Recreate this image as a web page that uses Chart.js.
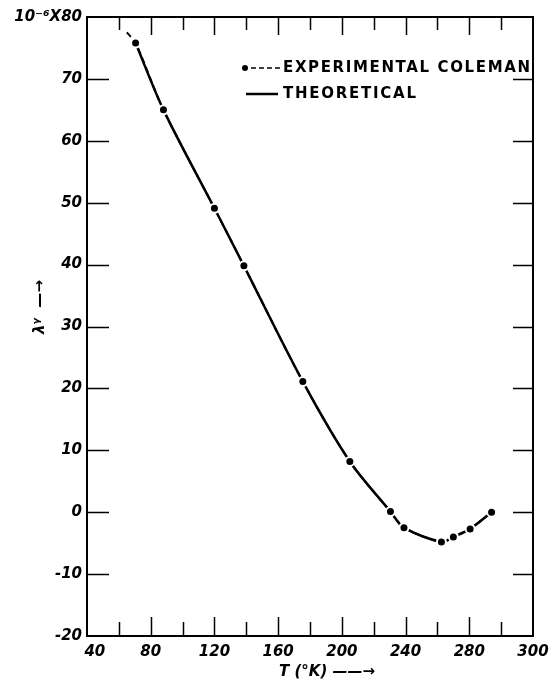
<!DOCTYPE html>
<html>
<head>
<meta charset="utf-8">
<script src="https://cdn.jsdelivr.net/npm/chart.js@4"></script>
<style>
  html, body { margin: 0; padding: 0; background: #fff; }
  #wrap { width: 553px; height: 682px; }
</style>
</head>
<body>
<div id="wrap"><canvas id="lambdaChart"></canvas></div>
<script>
// Experimental points (Coleman), first one only starts the dashed lead-in
const expT = [65, 70.5, 88, 120, 138.5, 175.5, 205, 230.5, 239, 262.5, 270, 280.5, 294];
const expLambda = [77.5, 75.8, 65.0, 49.1, 39.8, 21.1, 8.2, 0.1, -2.5, -4.8, -4.0, -2.7, 0.0];
const expRadius = [0, 4.5, 4.5, 4.5, 4.5, 4.5, 4.5, 4.5, 4.5, 4.5, 4.5, 4.5, 4.5];

// Theoretical curve
const theoT = [70.5, 88, 120, 138.5, 175.5, 205, 230.5, 239, 262.5, 270, 280.5, 294];
const theoLambda = [75.8, 65.0, 49.1, 39.8, 21.1, 8.2, 0.1, -2.5, -4.8, -4.0, -2.7, 0.0];

// Axis ticks (the original plot labels its right edge "300")
const xTickValues = [40, 60, 80, 100, 120, 140, 160, 180, 200, 220, 240, 260, 280, 300, 320];
const xTickLabels = ["   40", "", "80", "", "120", "", "160", "", "200", "", "240", "", "280", "", "300"];
const yTickValues = [-20, -10, 0, 10, 20, 30, 40, 50, 60, 70, 80];
const yTickLabels = ["-20", "-10", "0", "10", "20", "30", "40", "50", "60", "70", "10\u207B\u2076X80"];

const legendLabels = ["EXPERIMENTAL COLEMAN", "THEORETICAL"];
const xTitle = "T (\u00B0K) \u2014\u2014\u2192";
const yTitle = "\u03BB\u1D5E  \u2014\u2192";

const tickFont = { family: "DejaVu Sans", size: 15, style: "italic", weight: "bold" };

const toPoints = (xs, ys) => xs.map((x, i) => ({ x: x, y: ys[i] }));

// frame, inward ticks, legend and axis titles
const framePlugin = {
  id: "framePlugin",
  afterDraw(chart) {
    const ctx = chart.ctx;
    const a = chart.chartArea;
    const xs = chart.scales.x, ys = chart.scales.y;
    ctx.save();
    ctx.strokeStyle = "#000";
    ctx.lineWidth = 2;
    ctx.strokeRect(a.left, a.top, a.right - a.left, a.bottom - a.top);

    ctx.lineWidth = 1.5;
    ctx.beginPath();
    xTickValues.forEach(v => {
      if (v === 40 || v === 320) return;
      const px = Math.round(xs.getPixelForValue(v)) + 0.5;
      const major = v % 40 === 0;
      ctx.moveTo(px, a.bottom); ctx.lineTo(px, a.bottom - (major ? 19 : 14));
      ctx.moveTo(px, a.top); ctx.lineTo(px, a.top + (major ? 18 : 13));
    });
    yTickValues.forEach(v => {
      if (v === -20 || v === 80) return;
      const py = Math.round(ys.getPixelForValue(v)) + 0.5;
      ctx.moveTo(a.left, py); ctx.lineTo(a.left + 22, py);
      ctx.moveTo(a.right, py); ctx.lineTo(a.right - 20, py);
    });
    ctx.stroke();

    // legend
    const lx = a.right - 288, ly1 = a.top + 51, ly2 = a.top + 77;
    ctx.fillStyle = "#000";
    ctx.beginPath(); ctx.arc(lx, ly1, 3, 0, Math.PI * 2); ctx.fill();
    ctx.lineWidth = 1.5;
    ctx.setLineDash([5, 3]);
    ctx.beginPath(); ctx.moveTo(lx + 6, ly1); ctx.lineTo(lx + 35, ly1); ctx.stroke();
    ctx.setLineDash([]);
    ctx.lineWidth = 2.5;
    ctx.beginPath(); ctx.moveTo(lx + 1, ly2); ctx.lineTo(lx + 33, ly2); ctx.stroke();

    ctx.font = "bold 15px 'DejaVu Sans'";
    ctx.textBaseline = "middle";
    ctx.textAlign = "left";
    const fitText = (txt, x, y, width) => {
      ctx.letterSpacing = "0px";
      const w = ctx.measureText(txt).width;
      ctx.letterSpacing = Math.max(0, (width - w) / (txt.length - 1)) + "px";
      ctx.fillText(txt, x, y);
      ctx.letterSpacing = "0px";
    };
    fitText(legendLabels[0], lx + 38, ly1, 247);
    fitText(legendLabels[1], lx + 38, ly2, 133);

    // axis titles
    ctx.font = "italic bold 15px 'DejaVu Sans'";
    ctx.textAlign = "center";
    ctx.fillText(xTitle, 327, 672);
    ctx.translate(40, 307);
    ctx.rotate(-Math.PI / 2);
    ctx.fillText(yTitle, 0, 0);
    ctx.restore();
  }
};

new Chart(document.getElementById("lambdaChart"), {
  type: "scatter",
  data: {
    datasets: [{
      label: legendLabels[0],
      data: toPoints(expT, expLambda),
      showLine: true,
      borderColor: "#000",
      borderWidth: 2,
      borderDash: [6, 4],
      tension: 0.3,
      pointRadius: expRadius,
      pointBackgroundColor: "#000",
      pointBorderColor: "#fff",
      pointBorderWidth: 2,
      order: 1
    }, {
      label: legendLabels[1],
      data: toPoints(theoT, theoLambda),
      showLine: true,
      borderColor: "#000",
      borderWidth: 2.5,
      pointRadius: 0,
      tension: 0.3,
      order: 2
    }]
  },
  options: {
    responsive: true,
    maintainAspectRatio: false,
    animation: false,
    layout: { padding: { left: 0, right: 20, top: 17, bottom: 0 } },
    plugins: { legend: { display: false }, tooltip: { enabled: false } },
    scales: {
      x: {
        type: "linear",
        min: 40,
        max: 320,
        afterBuildTicks: s => { s.ticks = xTickValues.map(v => ({ value: v })); },
        afterFit: s => { s.height = 46; s.paddingRight = 0; s.paddingLeft = 0; },
        grid: { display: false, drawTicks: false },
        border: { display: false },
        ticks: {
          autoSkip: false,
          maxRotation: 0,
          padding: 7,
          color: "#000",
          font: tickFont,
          callback: (v, i) => xTickLabels[i]
        }
      },
      y: {
        type: "linear",
        min: -20,
        max: 80,
        afterBuildTicks: s => { s.ticks = yTickValues.map(v => ({ value: v })); },
        afterFit: s => { s.width = 87; },
        grid: { display: false, drawTicks: false },
        border: { display: false },
        ticks: {
          autoSkip: false,
          padding: 5,
          color: "#000",
          font: tickFont,
          callback: (v, i) => yTickLabels[i]
        }
      }
    }
  },
  plugins: [framePlugin]
});
</script>
</body>
</html>
